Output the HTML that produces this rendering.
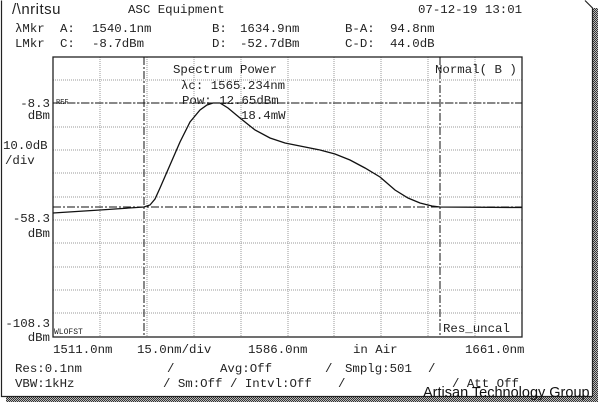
<!DOCTYPE html>
<html><head><style>
body{margin:0;background:#fff;}
svg{display:block}
text{font-family:"Liberation Mono",monospace;font-size:12.4px;fill:#222}
</style></head><body>
<svg width="600" height="404" viewBox="0 0 600 404" xmlns="http://www.w3.org/2000/svg">
<defs>
<pattern id="st" width="2" height="2" patternUnits="userSpaceOnUse"><rect width="2" height="2" fill="#bbb"/><rect width="1" height="1" fill="#333"/><rect x="1" y="1" width="1" height="1" fill="#333"/></pattern>
</defs>
<rect x="0" y="0" width="600" height="404" fill="#fff"/>
<rect x="593" y="8" width="5" height="393" fill="url(#st)"/>
<rect x="6" y="396" width="592" height="6" fill="url(#st)"/>
<path d="M1.5 0.5 V396.5 H592.5 V8 L585 0.5" fill="none" stroke="#222" stroke-width="1.2"/>
<g stroke="#999" stroke-width="1" stroke-dasharray="1,1">
<line x1="100" y1="57" x2="100" y2="337"/><line x1="147" y1="57" x2="147" y2="337"/><line x1="194" y1="57" x2="194" y2="337"/><line x1="241" y1="57" x2="241" y2="337"/><line x1="288" y1="57" x2="288" y2="337"/><line x1="334" y1="57" x2="334" y2="337"/><line x1="381" y1="57" x2="381" y2="337"/><line x1="428" y1="57" x2="428" y2="337"/><line x1="475" y1="57" x2="475" y2="337"/>
<line x1="53" y1="80" x2="522" y2="80"/><line x1="53" y1="103" x2="522" y2="103"/><line x1="53" y1="127" x2="522" y2="127"/><line x1="53" y1="150" x2="522" y2="150"/><line x1="53" y1="173" x2="522" y2="173"/><line x1="53" y1="197" x2="522" y2="197"/><line x1="53" y1="220" x2="522" y2="220"/><line x1="53" y1="243" x2="522" y2="243"/><line x1="53" y1="267" x2="522" y2="267"/><line x1="53" y1="290" x2="522" y2="290"/><line x1="53" y1="313" x2="522" y2="313"/>
</g>
<rect x="53" y="57" width="469" height="280" fill="none" stroke="#222" stroke-width="1.3"/>
<g stroke="#111" stroke-width="1" stroke-dasharray="8,2,2,2">
<line x1="53" y1="103" x2="522" y2="103"/>
<line x1="53" y1="207" x2="522" y2="207"/>
<line x1="144" y1="57" x2="144" y2="337"/>
<line x1="440" y1="57" x2="440" y2="337"/>
</g>
<polyline fill="none" stroke="#111" stroke-width="1.3" points="53,213 100,210 144,207 150,205 155,199 160,188 170,165 180,142 190,122 200,110 207,105 213,103 220,103 228,108 240,118 255,130 270,138 285,143 300,146 320,150 335,154 350,160 365,168 380,177 395,190 408,198 420,203 432,206 440,207 522,207.5"/>
<text x="12" y="14" style="font-family:'Liberation Sans',sans-serif;font-size:15px;letter-spacing:0.5px">/\nritsu</text>
<text x="128" y="13">ASC Equipment</text>
<text x="418" y="13">07-12-19 13:01</text>
<text x="15" y="32">λMkr</text><text x="60" y="32">A:</text><text x="92" y="32">1540.1nm</text><text x="212" y="32">B:</text><text x="240" y="32">1634.9nm</text><text x="345" y="32">B-A:</text><text x="390" y="32">94.8nm</text>
<text x="15" y="47">LMkr</text><text x="60" y="47">C:</text><text x="92" y="47">-8.7dBm</text><text x="212" y="47">D:</text><text x="240" y="47">-52.7dBm</text><text x="345" y="47">C-D:</text><text x="390" y="47">44.0dB</text>
<text x="173" y="73">Spectrum Power</text>
<text x="181" y="89">λc: 1565.234nm</text>
<text x="182" y="104">Pow:  12.65dBm</text>
<text x="241" y="119">18.4mW</text>
<text x="435" y="73">Normal( B )</text>
<text x="443" y="332">Res_uncal</text>
<text x="56" y="104" style="font-size:7px">REF</text>
<text x="54" y="334" style="font-size:8px">WLOFST</text>
<text x="50" y="107" text-anchor="end">-8.3</text>
<text x="50" y="119" text-anchor="end">dBm</text>
<text x="3" y="149">10.0dB</text>
<text x="5" y="164">/div</text>
<text x="50" y="222" text-anchor="end">-58.3</text>
<text x="50" y="237" text-anchor="end">dBm</text>
<text x="50" y="327" text-anchor="end">-108.3</text>
<text x="50" y="341" text-anchor="end">dBm</text>
<text x="53" y="353">1511.0nm</text><text x="137" y="353">15.0nm/div</text><text x="248" y="353">1586.0nm</text><text x="353" y="353">in Air</text><text x="465" y="353">1661.0nm</text>
<text x="15" y="372">Res:0.1nm</text><text x="167" y="372">/</text><text x="220" y="372">Avg:Off</text><text x="325" y="372">/</text><text x="345" y="372">Smplg:501</text><text x="428" y="372">/</text>
<text x="15" y="387">VBW:1kHz</text><text x="163" y="387">/ Sm:Off</text><text x="230" y="387">/ Intvl:Off</text><text x="338" y="387">/</text><text x="452" y="387">/ Att Off</text>
<text x="423" y="397" style="font-family:'Liberation Sans',sans-serif;font-size:14.5px;fill:#111">Artisan Technology Group</text>
</svg>
</body></html>
